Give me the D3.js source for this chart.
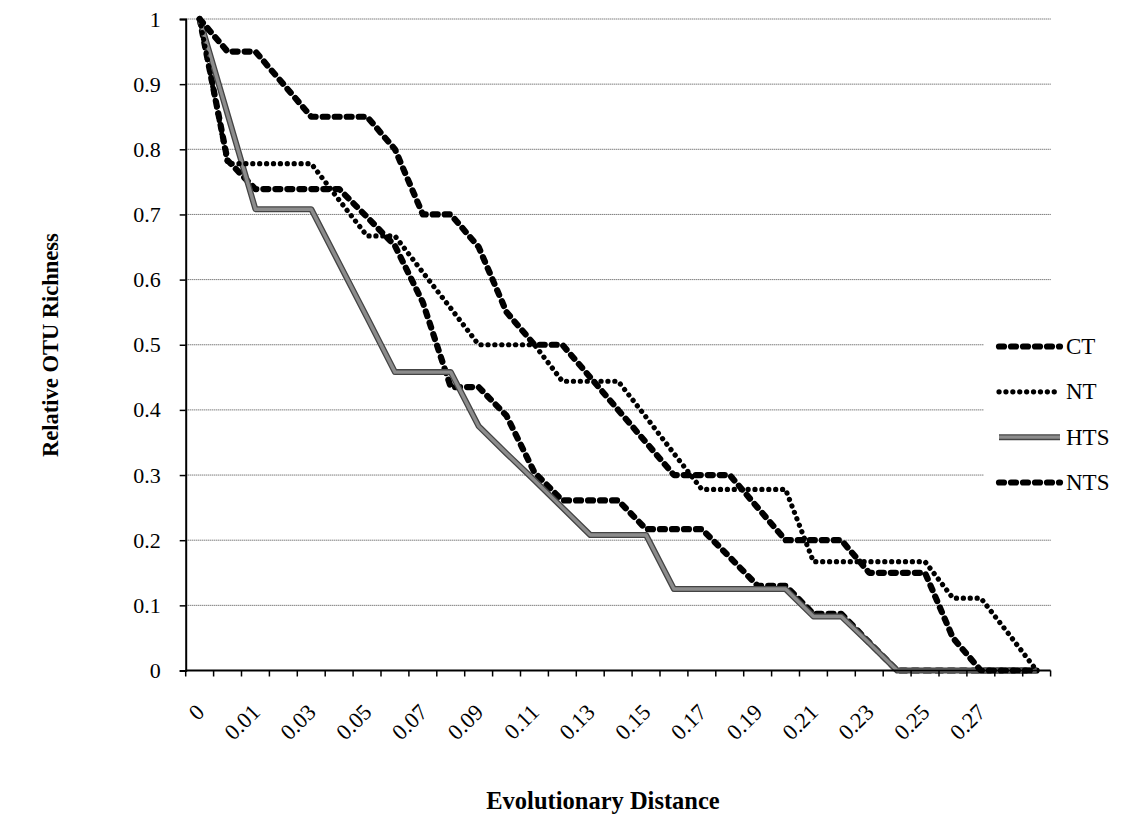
<!DOCTYPE html>
<html>
<head>
<meta charset="utf-8">
<script src="https://cdn.jsdelivr.net/npm/d3@7/dist/d3.min.js"></script>
<style>
  html, body { margin: 0; padding: 0; background: #fff; }
  svg { display: block; font-family: "Liberation Serif", "Times New Roman", serif; }
</style>
</head>
<body>
<svg id="chart" width="1129" height="819"></svg>
<script>
// Distance levels (categories); only every second one carries a label.
const categories = ["0", "0.00", "0.01", "0.02", "0.03", "0.04", "0.05", "0.06", "0.07", "0.08",
  "0.09", "0.10", "0.11", "0.12", "0.13", "0.14", "0.15", "0.16", "0.17", "0.18", "0.19",
  "0.20", "0.21", "0.22", "0.23", "0.24", "0.25", "0.26", "0.27", "0.28", "0.29"];
const xTickLabels = ["0", "0.01", "0.03", "0.05", "0.07", "0.09", "0.11", "0.13", "0.15",
  "0.17", "0.19", "0.21", "0.23", "0.25", "0.27"];
const yTicks = [0, 0.1, 0.2, 0.3, 0.4, 0.5, 0.6, 0.7, 0.8, 0.9, 1];

// Relative OTU richness per distance level
const ct  = [1, 0.95, 0.95, 0.90, 0.85, 0.85, 0.85, 0.80, 0.70, 0.70, 0.65, 0.55, 0.50, 0.50, 0.45,
  0.40, 0.35, 0.30, 0.30, 0.30, 0.25, 0.20, 0.20, 0.20, 0.15, 0.15, 0.15, 0.05, 0, 0, 0];
const nt  = [1, 0.778, 0.778, 0.778, 0.778, 0.722, 0.667, 0.667, 0.611, 0.556, 0.5, 0.5, 0.5, 0.444,
  0.444, 0.444, 0.389, 0.333, 0.278, 0.278, 0.278, 0.278, 0.167, 0.167, 0.167, 0.167, 0.167,
  0.111, 0.111, 0.056, 0];
const hts = [1, 0.854, 0.708, 0.708, 0.708, 0.625, 0.542, 0.458, 0.458, 0.458, 0.375, 0.333, 0.292,
  0.250, 0.208, 0.208, 0.208, 0.125, 0.125, 0.125, 0.125, 0.125, 0.083, 0.083, 0.042, 0, 0, 0,
  0, 0, 0];
const nts = [1, 0.783, 0.739, 0.739, 0.739, 0.739, 0.696, 0.652, 0.565, 0.435, 0.435, 0.391, 0.304,
  0.261, 0.261, 0.261, 0.217, 0.217, 0.217, 0.174, 0.130, 0.130, 0.087, 0.087, 0.043, 0, 0, 0,
  0, 0, 0];

const seriesNames = ["CT", "NT", "HTS", "NTS"];
const seriesValues = { CT: ct, NT: nt, HTS: hts, NTS: nts };

// Line styles
const styles = {
  CT:  { kind: "dash" },
  NT:  { kind: "dot" },
  HTS: { kind: "gray" },
  NTS: { kind: "dash" }
};

const svg = d3.select("#chart");
const plot = { left: 185.7, right: 1050.6, top: 19, bottom: 670.5 };

const x = d3.scaleBand().domain(categories).range([plot.left, plot.right]).padding(0);
const cx = c => x(c) + x.bandwidth() / 2;
const y = d3.scaleLinear().domain([0, 1]).range([plot.bottom, plot.top]);

// Horizontal gridlines
svg.append("g")
  .selectAll("line")
  .data(yTicks.filter(d => d > 0))
  .join("line")
  .attr("x1", plot.left).attr("x2", plot.right)
  .attr("y1", d => y(d)).attr("y2", d => y(d))
  .attr("stroke", "#444")
  .attr("stroke-width", 1)
  .attr("stroke-dasharray", "1,1");

// Y axis
const yAxis = svg.append("g")
  .attr("transform", `translate(${plot.left},0)`)
  .call(d3.axisLeft(y).tickValues(yTicks).tickSize(6).tickPadding(19).tickFormat(d3.format("~g")));
yAxis.select(".domain").attr("stroke", "#000").attr("stroke-width", 2);
yAxis.selectAll(".tick line").attr("stroke", "#000").attr("stroke-width", 1.5);
yAxis.selectAll(".tick text")
  .attr("font-family", "Liberation Serif, Times New Roman, serif")
  .attr("font-size", 22).attr("fill", "#000");

// Series lines
const line = d3.line()
  .x((d, i) => cx(categories[i]))
  .y(d => y(d));

const drawOrder = ["NTS", "HTS", "NT", "CT"];
const gLines = svg.append("g");

function strokeSeries(g, pathData, kind) {
  if (kind === "dash") {
    g.append("path").attr("d", pathData).attr("fill", "none")
      .attr("stroke", "#000").attr("stroke-width", 6.2)
      .attr("stroke-linecap", "round").attr("stroke-linejoin", "round")
      .attr("stroke-dasharray", "5,7");
  } else if (kind === "dot") {
    g.append("path").attr("d", pathData).attr("fill", "none")
      .attr("stroke", "#000").attr("stroke-width", 5.2)
      .attr("stroke-linecap", "round").attr("stroke-linejoin", "round")
      .attr("stroke-dasharray", "0.1,6.8");
  } else {
    g.append("path").attr("d", pathData).attr("fill", "none")
      .attr("stroke", "#444").attr("stroke-width", 6)
      .attr("stroke-linejoin", "round");
    g.append("path").attr("d", pathData).attr("fill", "none")
      .attr("stroke", "#8c8c8c").attr("stroke-width", 3.4)
      .attr("stroke-linejoin", "round");
  }
}

drawOrder.forEach(name => {
  strokeSeries(gLines.append("g"), line(seriesValues[name]), styles[name].kind);
});

// X axis with ticks between categories
const xAxisG = svg.append("g");
xAxisG.append("line")
  .attr("x1", plot.left).attr("x2", plot.right)
  .attr("y1", plot.bottom).attr("y2", plot.bottom)
  .attr("stroke", "#000").attr("stroke-width", 2);
const boundaries = categories.map(c => x(c)).concat([x(categories[categories.length - 1]) + x.bandwidth()]);
xAxisG.selectAll("line.tick")
  .data(boundaries)
  .join("line")
  .attr("class", "tick")
  .attr("x1", d => d).attr("x2", d => d)
  .attr("y1", plot.bottom).attr("y2", plot.bottom + 6)
  .attr("stroke", "#000").attr("stroke-width", 1.5);
xAxisG.selectAll("text")
  .data(xTickLabels)
  .join("text")
  .attr("transform", d => `translate(${cx(d) + 6},${plot.bottom + 43}) rotate(-45)`)
  .attr("text-anchor", "end")
  .attr("font-size", 22.5)
  .attr("fill", "#000")
  .text(d => d);

// Axis titles
svg.append("text")
  .attr("transform", "translate(58,345) rotate(-90)")
  .attr("text-anchor", "middle")
  .attr("font-size", 22.5).attr("font-weight", "bold")
  .text("Relative OTU Richness");
svg.append("text")
  .attr("x", 603).attr("y", 809)
  .attr("text-anchor", "middle")
  .attr("font-size", 24.5).attr("font-weight", "bold")
  .text("Evolutionary Distance");

// Legend
const legend = svg.append("g");
legend.append("rect")
  .attr("x", 984).attr("y", 322).attr("width", 145).attr("height", 186)
  .attr("fill", "#fff");
const legendY = d3.scalePoint().domain(seriesNames).range([346.5, 482.5]);
seriesNames.forEach(name => {
  const gy = legendY(name);
  const g = legend.append("g");
  strokeSeries(g, `M999,${gy}L1060,${gy}`, styles[name].kind);
  legend.append("text")
    .attr("x", 1066).attr("y", gy + 7.5)
    .attr("font-size", 23).attr("fill", "#000")
    .text(name);
});
</script>
</body>
</html>
